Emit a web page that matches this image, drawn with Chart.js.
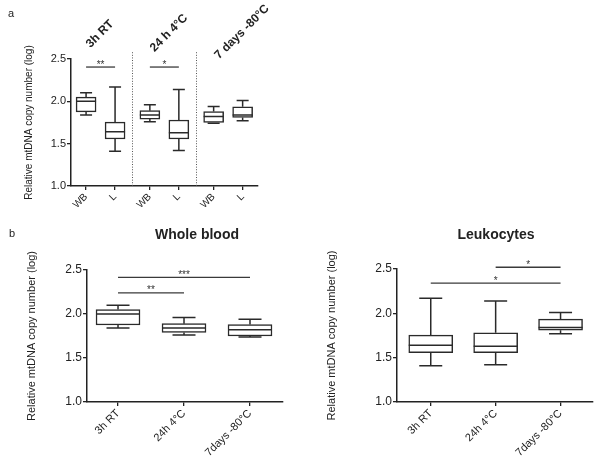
<!DOCTYPE html>
<html><head><meta charset="utf-8">
<script src="https://cdn.jsdelivr.net/npm/chart.js@4/dist/chart.umd.min.js"></script>
<style>
html,body{margin:0;padding:0;background:#fff;}
#wrap{position:relative;width:600px;height:466px;overflow:hidden;background:#fff;}
canvas{position:absolute;}
</style></head><body>
<div id="wrap">
<canvas id="ca" width="300" height="220" style="left:0;top:0"></canvas>
<canvas id="cb" width="300" height="246" style="left:0;top:220px"></canvas>
<canvas id="cc" width="300" height="246" style="left:300px;top:220px"></canvas>
</div>
<script>
// ---------- data ----------
const conditions = ['3h RT', '24h 4°C', '7days -80°C'];
const panelAGroups = ['3h RT', '24 h 4°C', '7 days -80°C'];
const sampleTypes = ['WB', 'L'];
const yTicks = [1.0, 1.5, 2.0, 2.5];
const yTitle = 'Relative mtDNA copy number (log)';

// Whole blood (min, Q1, median, Q3, max) per condition
const wbMin    = [1.84, 1.76, 1.74];
const wbQ1     = [1.875, 1.79, 1.75];
const wbMedian = [2.00, 1.84, 1.82];
const wbQ3     = [2.05, 1.89, 1.88];
const wbMax    = [2.10, 1.96, 1.94];

// Leukocytes
const lkMin    = [1.41, 1.42, 1.77];
const lkQ1     = [1.555, 1.555, 1.81];
const lkMedian = [1.64, 1.63, 1.84];
const lkQ3     = [1.755, 1.78, 1.935];
const lkMax    = [2.17, 2.14, 2.01];

// significance brackets: [fromIndex, toIndex, level, label]
const sigA  = [[0, 1, 2.405, '**'], [2, 3, 2.405, '*']];
const sigWB = [[0, 2, 2.417, '***'], [0, 1, 2.24, '**']];
const sigLK = [[1, 2, 2.52, '*'], [0, 2, 2.34, '*']];

// ---------- helpers ----------
const FONT = "'Liberation Sans', Arial, sans-serif";
const INK = '#222';

const boxExtras = {
  id: 'boxExtras',
  afterDatasetsDraw(chart, args, o) {
    const ctx = chart.ctx, xs = chart.scales.x, ys = chart.scales.y;
    ctx.save();
    // separators
    (o.separators || []).forEach(s => {
      const px = Math.round(xs.getPixelForValue(s)) + 0.5;
      ctx.beginPath();
      ctx.setLineDash([1, 1.6]);
      ctx.strokeStyle = '#555';
      ctx.lineWidth = 1;
      ctx.moveTo(px, ys.getPixelForValue(o.sepTop));
      ctx.lineTo(px, ys.getPixelForValue(ys.min));
      ctx.stroke();
    });
    ctx.setLineDash([]);
    // whiskers + medians
    ctx.strokeStyle = '#2a2a2a';
    ctx.lineWidth = 1.5;
    o.xs.forEach((xv, i) => {
      const px = xs.getPixelForValue(xv);
      const pMin = ys.getPixelForValue(o.min[i]);
      const pQ1 = ys.getPixelForValue(o.q1[i]);
      const pMed = ys.getPixelForValue(o.med[i]);
      const pQ3 = ys.getPixelForValue(o.q3[i]);
      const pMax = ys.getPixelForValue(o.max[i]);
      const cw = o.capWidth / 2, bw = o.boxWidth / 2;
      ctx.beginPath();
      ctx.moveTo(px, pQ3); ctx.lineTo(px, pMax);
      ctx.moveTo(px - cw, pMax); ctx.lineTo(px + cw, pMax);
      ctx.moveTo(px, pQ1); ctx.lineTo(px, pMin);
      ctx.moveTo(px - cw, pMin); ctx.lineTo(px + cw, pMin);
      ctx.moveTo(px - bw, pMed); ctx.lineTo(px + bw, pMed);
      ctx.stroke();
    });
    // significance
    (o.sig || []).forEach(([a, b, lv, lab]) => {
      const x1 = xs.getPixelForValue(o.xs[a]), x2 = xs.getPixelForValue(o.xs[b]);
      const py = ys.getPixelForValue(lv);
      ctx.beginPath();
      ctx.strokeStyle = '#3a3a3a';
      ctx.lineWidth = 1.3;
      ctx.moveTo(x1, py); ctx.lineTo(x2, py);
      ctx.stroke();
      ctx.fillStyle = '#333';
      ctx.font = '10px ' + FONT;
      ctx.textAlign = 'center';
      ctx.textBaseline = 'alphabetic';
      ctx.fillText(lab, (x1 + x2) / 2, py + 0.5);
    });
    // free texts
    (o.texts || []).forEach(t => {
      ctx.save();
      ctx.fillStyle = INK;
      ctx.font = t.font;
      ctx.textAlign = t.align || 'center';
      ctx.textBaseline = t.baseline || 'middle';
      ctx.translate(t.x, t.y);
      if (t.rot) ctx.rotate(t.rot * Math.PI / 180);
      ctx.fillText(t.text, 0, 0);
      ctx.restore();
    });
    ctx.restore();
  }
};

function makeChart(id, c) {
  new Chart(document.getElementById(id), {
    type: 'bar',
    data: {
      datasets: [{
        data: c.xs.map((x, i) => ({ x: x, y: [c.q1[i], c.q3[i]] })),
        backgroundColor: '#fff',
        borderColor: '#2a2a2a',
        borderWidth: 1.5,
        borderSkipped: false,
        barThickness: c.boxWidth
      }]
    },
    options: {
      responsive: false,
      animation: false,
      layout: { padding: { left: 0, top: c.top, right: c.right, bottom: 0 } },
      plugins: {
        legend: { display: false },
        tooltip: { enabled: false },
        boxExtras: c
      },
      scales: {
        x: {
          type: 'linear',
          offset: false,
          min: c.xMin, max: c.xMax,
          afterBuildTicks: s => { s.ticks = c.xs.map(v => ({ value: v })); },
          afterFit: s => { s.height = c.xHeight; },
          ticks: {
            autoSkip: false, minRotation: 45, maxRotation: 45,
            callback: (v, i) => c.labels[i],
            font: { family: FONT, size: c.xFont }, color: INK, padding: 1
          },
          grid: { offset: false, drawOnChartArea: false, drawTicks: true, tickLength: 4, color: INK, lineWidth: 1.3 },
          border: { display: true, color: INK, width: 1.5 }
        },
        y: {
          min: 1, max: 2.5,
          afterBuildTicks: s => { s.ticks = yTicks.map(v => ({ value: v })); },
          afterFit: s => { s.width = c.yWidth; },
          ticks: {
            callback: v => Number(v).toFixed(1),
            font: { family: FONT, size: c.yFont }, color: INK, padding: 1
          },
          grid: { drawOnChartArea: false, drawTicks: true, tickLength: 4, color: INK, lineWidth: 1.3 },
          border: { display: true, color: INK, width: 1.5 },
          title: {
            display: true, text: yTitle, color: INK,
            font: { family: FONT, size: c.titleFont },
            padding: { top: c.titlePad, bottom: 0 }
          }
        }
      }
    },
    plugins: [boxExtras]
  });
}

// ---------- panel a ----------
const xsA = [], labA = [], minA = [], q1A = [], medA = [], q3A = [], maxA = [];
const GROUP_STEP = 2.2;
for (let g = 0; g < 3; g++) {
  // whole blood
  xsA.push(g * GROUP_STEP); labA.push(sampleTypes[0]);
  minA.push(wbMin[g]); q1A.push(wbQ1[g]); medA.push(wbMedian[g]); q3A.push(wbQ3[g]); maxA.push(wbMax[g]);
  // leukocytes
  xsA.push(g * GROUP_STEP + 1); labA.push(sampleTypes[1]);
  minA.push(lkMin[g]); q1A.push(lkQ1[g]); medA.push(lkMedian[g]); q3A.push(lkQ3[g]); maxA.push(lkMax[g]);
}
makeChart('ca', {
  xs: xsA, labels: labA, min: minA, q1: q1A, med: medA, q3: q3A, max: maxA,
  xMin: -0.52, xMax: 5.93, top: 59, right: 42, xHeight: 34, yWidth: 71,
  xFont: 10, yFont: 11, titleFont: 10, titlePad: 23,
  boxWidth: 20, capWidth: 12,
  separators: [GROUP_STEP - 0.6, 2 * GROUP_STEP - 0.6], sepTop: 2.58,
  sig: sigA,
  texts: [
    { text: 'a', x: 8, y: 17, font: '11px ' + FONT, align: 'left', baseline: 'alphabetic' },
    { text: panelAGroups[0], x: 100, y: 34, rot: -45, font: 'bold 12px ' + FONT },
    { text: panelAGroups[1], x: 169, y: 33, rot: -45, font: 'bold 12px ' + FONT },
    { text: panelAGroups[2], x: 242, y: 32, rot: -45, font: 'bold 12px ' + FONT }
  ]
});

// ---------- panel b: whole blood ----------
makeChart('cb', {
  xs: [0, 1, 2], labels: conditions,
  min: wbMin, q1: wbQ1, med: wbMedian, q3: wbQ3, max: wbMax,
  xMin: -0.47, xMax: 2.5, top: 50, right: 17, xHeight: 64, yWidth: 87,
  xFont: 11, yFont: 12, titleFont: 11, titlePad: 25,
  boxWidth: 44, capWidth: 23,
  sig: sigWB,
  texts: [
    { text: 'b', x: 9, y: 17, font: '11px ' + FONT, align: 'left', baseline: 'alphabetic' },
    { text: 'Whole blood', x: 197, y: 15, font: 'bold 14px ' + FONT }
  ]
});

// ---------- panel b: leukocytes ----------
makeChart('cc', {
  xs: [0, 1, 2], labels: conditions,
  min: lkMin, q1: lkQ1, med: lkMedian, q3: lkQ3, max: lkMax,
  xMin: -0.52, xMax: 2.5, top: 49, right: 7, xHeight: 64, yWidth: 97,
  xFont: 11, yFont: 12, titleFont: 11, titlePad: 25,
  boxWidth: 44, capWidth: 23,
  sig: sigLK,
  texts: [
    { text: 'Leukocytes', x: 196, y: 15, font: 'bold 14px ' + FONT }
  ]
});
</script>
</body></html>
